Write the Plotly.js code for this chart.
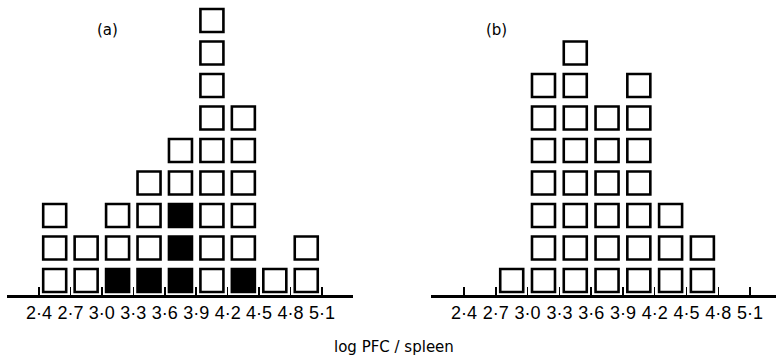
<!DOCTYPE html>
<html><head><meta charset="utf-8">
<script src="https://cdn.plot.ly/plotly-3.0.1.min.js"></script>
<style>html,body{margin:0;padding:0;background:#fff}</style>
</head><body>
<div id="chart" style="width:776px;height:363px"></div>
<script>
// Bin lower edges (log PFC / spleen), bin width 0.3
const binStarts = [2.4, 2.7, 3.0, 3.3, 3.6, 3.9, 4.2, 4.5, 4.8];
const binWidth = 0.3;
// Panel (a): total count per bin and number of filled (black) squares at bottom
const countsA = [3, 2, 3, 4, 5, 9, 6, 1, 2];
const blackA  = [0, 0, 1, 1, 3, 0, 1, 0, 0];
// Panel (b): total count per bin (all open)
const countsB = [0, 1, 7, 8, 6, 7, 3, 2, 0];
const tickVals = [2.4, 2.7, 3.0, 3.3, 3.6, 3.9, 4.2, 4.5, 4.8, 5.1];
const tickText = ["2·4", "2·7", "3·0", "3·3", "3·6", "3·9", "4·2", "4·5", "4·8", "5·1"];

function stack(counts, black) {
  const open = {x: [], y: []}, filled = {x: [], y: []};
  counts.forEach((c, i) => {
    const xc = binStarts[i] + binWidth / 2;
    for (let k = 1; k <= c; k++) {
      const t = (black && k <= black[i]) ? filled : open;
      t.x.push(xc); t.y.push(k);
    }
  });
  return {open, filled};
}
const A = stack(countsA, blackA);
const B = stack(countsB, null);

const openMarker = {symbol: 'square', size: 23, color: '#ffffff', line: {color: '#000', width: 2.6}};
const fillMarker = {symbol: 'square', size: 23, color: '#000000', line: {color: '#000', width: 2.6}};

const data = [
  {type: 'scatter', mode: 'markers', x: A.open.x, y: A.open.y, marker: openMarker, xaxis: 'x', yaxis: 'y', hoverinfo: 'skip'},
  {type: 'scatter', mode: 'markers', x: A.filled.x, y: A.filled.y, marker: fillMarker, xaxis: 'x', yaxis: 'y', hoverinfo: 'skip'},
  {type: 'scatter', mode: 'markers', x: B.open.x, y: B.open.y, marker: openMarker, xaxis: 'x2', yaxis: 'y2', hoverinfo: 'skip'}
];

const xBase = {
  showgrid: false, zeroline: false, showline: true, linecolor: '#000', linewidth: 2.5,
  ticks: 'inside', ticklen: 8, tickwidth: 1.5, tickcolor: '#000',
  tickmode: 'array', tickvals: tickVals, ticktext: tickText,
  tickfont: {family: 'Liberation Sans Narrow, Liberation Sans, Arial, sans-serif', size: 18, color: '#000'},
  fixedrange: true
};
const yBase = {range: [0.554, 9.631], visible: false, showgrid: false, zeroline: false, fixedrange: true};

const layout = {
  width: 776, height: 363,
  margin: {l: 0, r: 0, t: 0, b: 68},
  paper_bgcolor: '#fff', plot_bgcolor: 'rgba(0,0,0,0)',
  showlegend: false,
  xaxis: Object.assign({}, xBase, {domain: [7/776, 353/776], range: [2.095, 5.396], anchor: 'y'}),
  yaxis: Object.assign({}, yBase, {anchor: 'x'}),
  xaxis2: Object.assign({}, xBase, {domain: [431/776, 1], range: [2.088, 5.345], anchor: 'y2'}),
  yaxis2: Object.assign({}, yBase, {anchor: 'x2'}),
  annotations: [
    {text: '(a)', xref: 'paper', yref: 'paper', x: 107/776, y: 1 - 30/295, xanchor: 'center', yanchor: 'middle', showarrow: false,
     font: {family: 'DejaVu Sans, sans-serif', size: 15, color: '#000'}},
    {text: '(b)', xref: 'paper', yref: 'paper', x: 497/776, y: 1 - 30/295, xanchor: 'center', yanchor: 'middle', showarrow: false,
     font: {family: 'DejaVu Sans, sans-serif', size: 15, color: '#000'}},
    {text: 'log PFC / spleen', xref: 'paper', yref: 'paper', x: 394/776, y: -52/295, xanchor: 'center', yanchor: 'middle', showarrow: false,
     font: {family: 'DejaVu Sans, sans-serif', size: 15, color: '#000'}}
  ]
};

Plotly.newPlot('chart', data, layout, {staticPlot: true, displayModeBar: false});
</script>
</body></html>
